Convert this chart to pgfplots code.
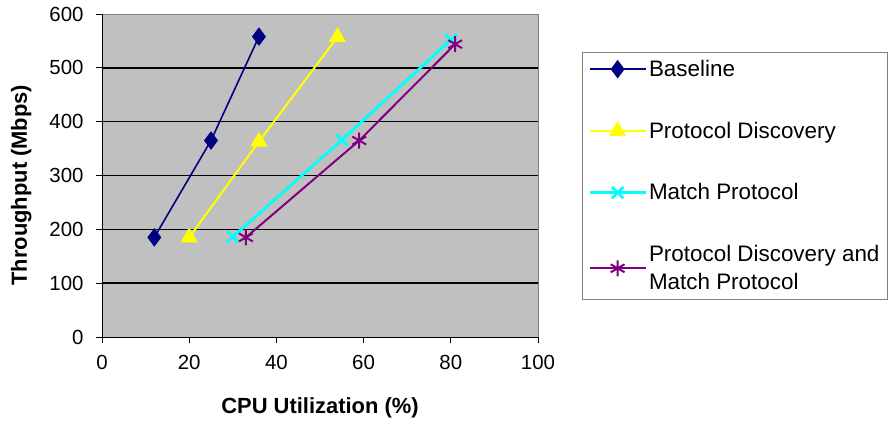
\documentclass[border=0pt]{standalone}
\usepackage{fontspec}
\setmainfont{Liberation Sans}
\usepackage{pgfplots}
\pgfplotsset{compat=1.18}
\definecolor{bggray}{HTML}{C0C0C0}
\definecolor{navyc}{HTML}{000080}
\definecolor{yelc}{HTML}{FFFF00}
\definecolor{cyanc}{HTML}{00FFFF}
\definecolor{purc}{HTML}{800080}
\begin{document}
\begin{tikzpicture}
\path[use as bounding box] (-102bp,-88bp) rectangle (788bp,337bp);
\begin{axis}[
  at={(0,0)}, anchor=south west,
  width=436bp, height=323bp, scale only axis,
  xmin=0, xmax=100, ymin=0, ymax=600,
  xtick={0,20,...,100}, ytick={0,100,...,600},
  axis x line*=bottom, axis y line*=left,
  axis line style={black, line width=1pt, -},
  axis background/.style={fill=bggray, draw=gray},
  tick align=outside, major tick length=6bp,
  tick style={black, line width=0.8pt},
  grid style={black, line width=1.5pt},
  extra y ticks={100,200,300,400,500},
  extra y tick labels={},
  extra y tick style={grid=major, major tick length=0pt},
  /pgf/number format/assume math mode=true,
  ticklabel style={font=\fontsize{20.5}{22}\selectfont},
  xticklabel style={yshift=-9bp},
  yticklabel style={xshift=-9bp},
  xlabel={\textbf{CPU Utilization (\%)}},
  ylabel={\textbf{Throughput (Mbps)}},
  label style={font=\fontsize{22}{24}\selectfont},
  xlabel style={at={(axis description cs:0.5,-0.22)}, anchor=center},
  ylabel style={at={(axis description cs:-0.185,0.47)}, anchor=center, rotate=0},
  legend style={at={(axis description cs:1.101,0.882)}, anchor=north west,
    draw=gray, fill=white, font=\fontsize{22.5}{28}\selectfont,
    cells={anchor=west, align=left}, row sep=40bp, inner sep=6bp},
  legend image code/.code={\draw[mark repeat=2, mark phase=2] plot coordinates {(0bp,0bp) (28bp,0bp) (56bp,0bp)};},
]
\addplot[navyc, line width=1.6pt, mark=diamond*, mark size=8bp, mark options={solid, fill=navyc}]
  coordinates {(12,185) (25,365) (36,558)};
\addlegendentry{Baseline}
\addplot[yelc, line width=2pt, mark=triangle*, mark size=8bp, mark options={solid, fill=yelc}]
  coordinates {(20,185) (36,363) (54,557)};
\addlegendentry{Protocol Discovery}
\addplot[cyanc, line width=2.8pt, mark=x, mark size=8bp, mark options={solid}]
  coordinates {(30,186) (55,366) (80,552)};
\addlegendentry{Match Protocol}
\addplot[purc, line width=2pt, mark=asterisk, mark size=8bp, mark options={solid}]
  coordinates {(33,185) (59,365) (81,544)};
\addlegendentry{Protocol Discovery and\\Match Protocol}
\end{axis}
\end{tikzpicture}
\end{document}
